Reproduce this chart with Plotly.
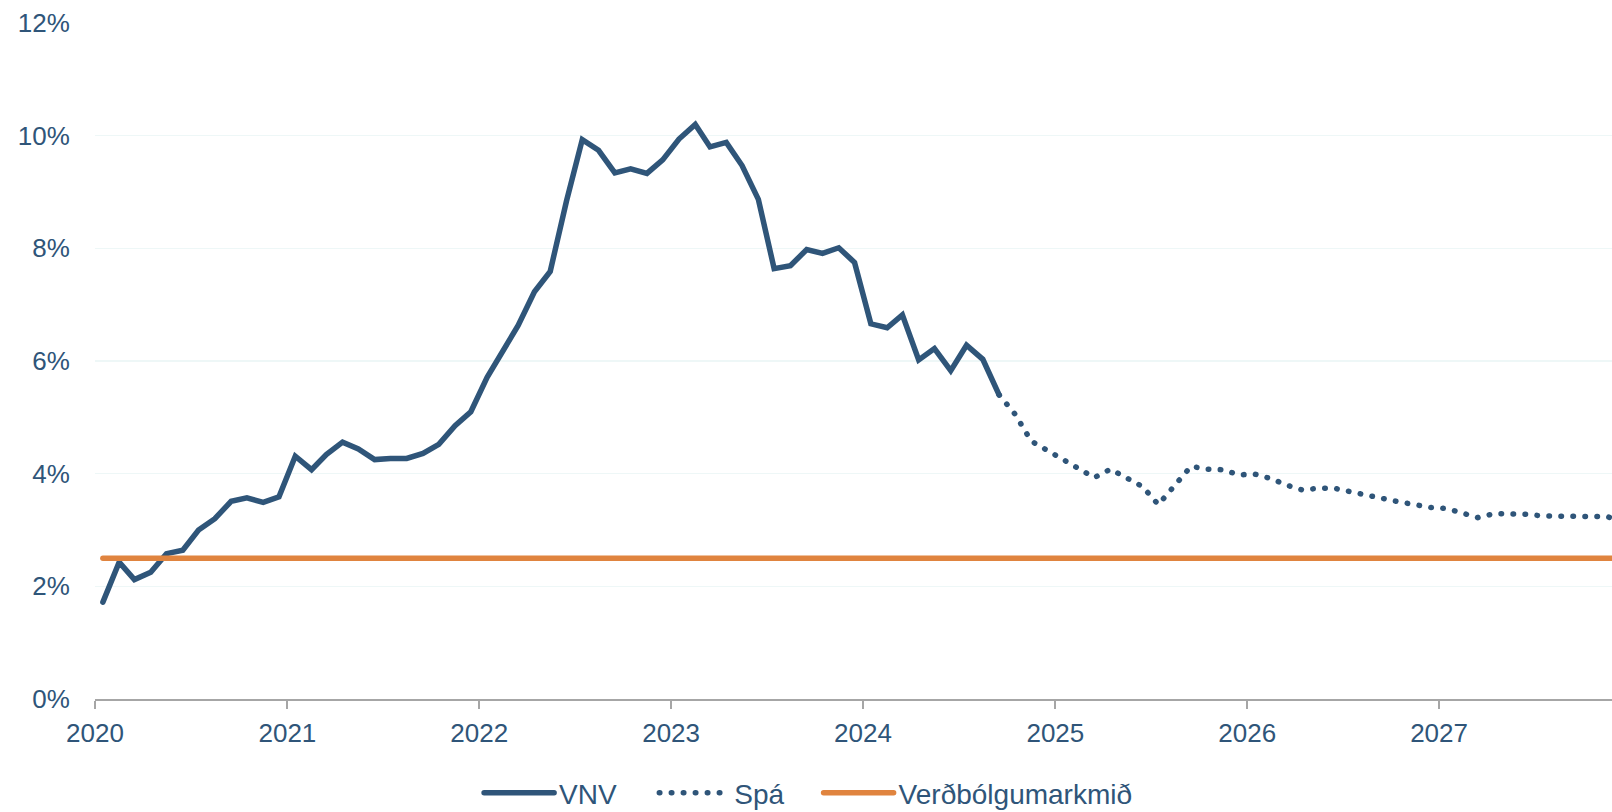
import plotly.graph_objects as go
import pandas as pd

# Actual CPI inflation (VNV), monthly Jan 2020 - Sep 2024, in %
vnv_values = [
    1.72, 2.43, 2.12, 2.25, 2.58, 2.64, 3.00, 3.20, 3.51, 3.57, 3.49, 3.59,
    4.31, 4.07, 4.34, 4.56, 4.44, 4.25, 4.27, 4.27, 4.36, 4.52, 4.85, 5.10,
    5.71, 6.18, 6.63, 7.23, 7.59, 8.84, 9.93, 9.74, 9.34, 9.41, 9.33, 9.57,
    9.94, 10.20, 9.80, 9.88, 9.47, 8.87, 7.64, 7.69, 7.98, 7.91, 8.01, 7.75,
    6.66, 6.59, 6.82, 6.02, 6.22, 5.83, 6.28, 6.03, 5.40,
]

# Forecast (Spá), monthly Sep 2024 - Dec 2027, in %
spa_values = [
    5.40, 5.06, 4.58, 4.42, 4.24, 4.09, 3.93, 4.08, 3.93, 3.77, 3.45, 3.80,
    4.13, 4.08, 4.07, 3.98, 3.99, 3.91, 3.80, 3.71, 3.74, 3.74, 3.68, 3.60,
    3.56, 3.50, 3.45, 3.40, 3.38, 3.30, 3.22, 3.29, 3.29, 3.28, 3.25, 3.24,
    3.24, 3.24, 3.24, 3.15,
]

# Inflation target
target_value = 2.5
target_start = "2020-01-16"
target_end = "2027-12-31"

y_ticks = [0, 2, 4, 6, 8, 10, 12]
y_tick_labels = ["0%", "2%", "4%", "6%", "8%", "10%", "12%"]
x_ticks = ["2020-01-01", "2021-01-01", "2022-01-01", "2023-01-01",
           "2024-01-01", "2025-01-01", "2026-01-01", "2027-01-01"]
x_tick_labels = ["2020", "2021", "2022", "2023", "2024", "2025", "2026", "2027"]

names = ["VNV", "Spá", "Verðbólgumarkmið"]

NAVY = "#2f5579"
ORANGE = "#e0843f"
FONT = "Liberation Sans, Arial, sans-serif"

vnv_dates = pd.date_range("2020-01-01", periods=len(vnv_values), freq="MS") + pd.Timedelta(days=15)
spa_dates = pd.date_range("2024-09-01", periods=len(spa_values), freq="MS") + pd.Timedelta(days=15)

fig = go.Figure()
fig.add_trace(go.Scatter(
    x=vnv_dates, y=vnv_values, mode="lines", name=names[0], legend="legend",
    line=dict(color=NAVY, width=5.5), hoverinfo="skip",
))
fig.add_trace(go.Scatter(
    x=spa_dates, y=spa_values, mode="lines", name=names[1], legend="legend2",
    line=dict(color=NAVY, width=5.5, dash="0.5px,11.5px"), hoverinfo="skip",
))
fig.add_trace(go.Scatter(
    x=[target_start, target_end], y=[target_value, target_value], mode="lines",
    name=names[2], legend="legend3",
    line=dict(color=ORANGE, width=5.5), hoverinfo="skip",
))

leg_common = dict(
    orientation="h", yanchor="middle", y=-0.139, xanchor="left",
    font=dict(size=28, color=NAVY), itemwidth=70, bgcolor="rgba(0,0,0,0)",
)

fig.update_layout(
    width=1612, height=812,
    margin=dict(l=95, r=0, t=23, b=113, autoexpand=False),
    paper_bgcolor="white", plot_bgcolor="white",
    font=dict(family=FONT, size=26, color=NAVY),
    showlegend=True,
    legend=dict(x=0.2532, **leg_common),
    legend2=dict(x=0.3687, **leg_common),
    legend3=dict(x=0.4770, **leg_common),
    xaxis=dict(
        type="date", automargin=False,
        range=["2020-01-01", "2027-11-26"],
        tickvals=x_ticks, ticktext=x_tick_labels,
        ticks="outside", ticklen=8, tickwidth=2, tickcolor="#a6a6a6",
        ticklabelstandoff=2,
        showline=True, linecolor="#a6a6a6", linewidth=2,
        showgrid=False, zeroline=False,
        tickfont=dict(size=26, color=NAVY),
    ),
    yaxis=dict(
        range=[0, 12], automargin=False,
        tickvals=y_ticks, ticktext=y_tick_labels,
        ticks="outside", ticklen=19, tickcolor="rgba(0,0,0,0)",
        showgrid=True, gridcolor="#eef7f7", gridwidth=1.5,
        showline=False, zeroline=False,
        tickfont=dict(size=26, color=NAVY),
    ),
)

post = """
document.body.style.margin = '0';
document.body.style.padding = '0';
var fix = function(){
  document.querySelectorAll('path.js-line, .legendlines path').forEach(function(p){
    p.style.strokeLinecap = 'round';
  });
};
fix(); setTimeout(fix, 50); setTimeout(fix, 300);
"""

fig.write_html("out.html", post_script=post,
               config={"displayModeBar": False, "staticPlot": True})
